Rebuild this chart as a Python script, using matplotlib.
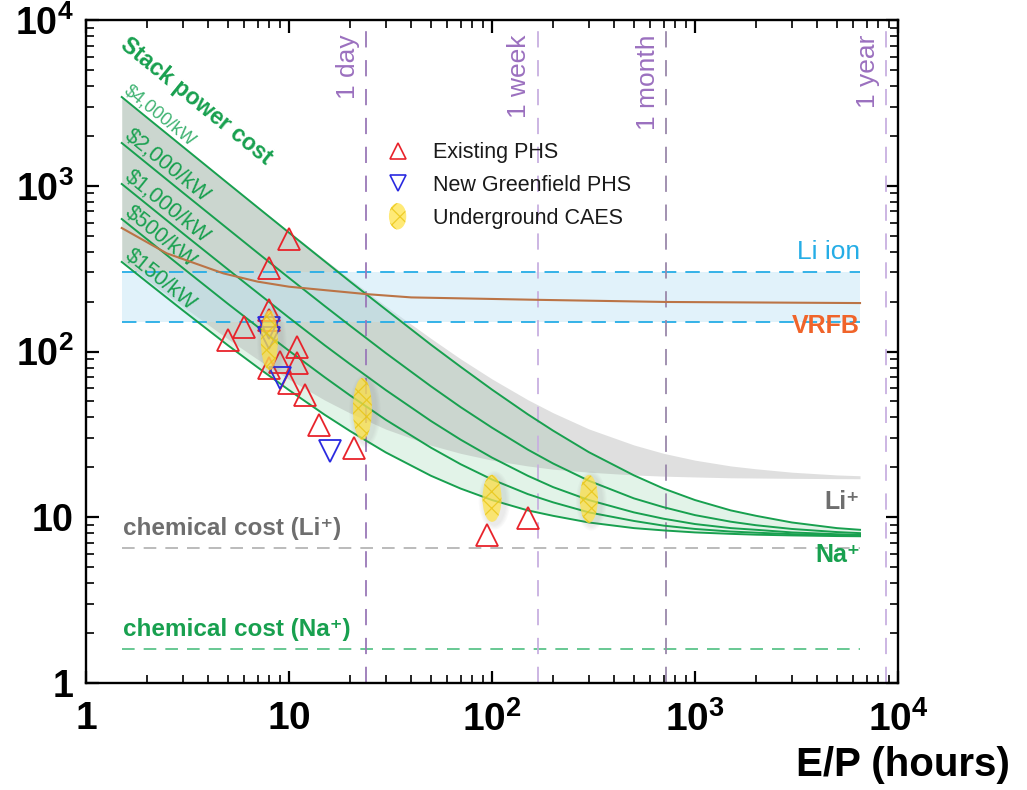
import matplotlib
matplotlib.use("Agg")
import matplotlib.pyplot as plt
from matplotlib import font_manager
from matplotlib.patches import Ellipse
from matplotlib.lines import Line2D
from matplotlib.legend_handler import HandlerPatch
from matplotlib.transforms import ScaledTranslation
from matplotlib.ticker import FixedLocator, FixedFormatter, NullFormatter, LogLocator

# ---------------- data ----------------
hours = [1.5, 2, 3, 5, 7, 10, 15, 20, 30, 50, 70, 100, 150, 200, 300,
         500, 700, 1000, 1500, 2000, 3000, 5000, 6500]

# Na+ system cost ($/kWh) for each stack power cost
na_4000 = [3430, 2574, 1719, 1034, 741, 521, 350, 264, 179, 110, 80.9, 58.9,
           41.8, 33.3, 24.7, 17.9, 14.9, 12.7, 11.0, 10.2, 9.3, 8.6, 8.4]
na_2000 = [1811, 1360, 909, 549, 394, 278, 188, 143, 97.8, 61.7, 46.2, 34.7,
           25.6, 21.1, 16.6, 13.0, 11.5, 10.3, 9.4, 8.95, 8.5, 8.14, 8.02]
na_1000 = [1025, 771, 516, 313, 226, 160, 109, 83.9, 58.5, 38.1, 29.4, 22.9,
           17.8, 15.2, 12.7, 10.7, 9.8, 9.1, 8.6, 8.4, 8.1, 7.9, 7.83]
na_500 = [630, 475, 319, 194, 141, 101, 69.9, 54.3, 38.7, 26.3, 20.9, 16.9,
          13.8, 12.3, 10.7, 9.5, 8.9, 8.5, 8.2, 8.07, 7.91, 7.79, 7.74]
na_150 = [347, 262, 177, 109, 80.3, 58.5, 41.5, 33.1, 24.6, 17.8, 14.9, 12.7,
          11.0, 10.2, 9.3, 8.6, 8.33, 8.1, 7.94, 7.85, 7.77, 7.7, 7.68]
na_curves = [na_4000, na_2000, na_1000, na_500, na_150]
power_cost_labels = ["$4,000/kW", "$2,000/kW", "$1,000/kW", "$500/kW", "$150/kW"]

# Li+ system cost band ($4,000/kW upper, $150/kW lower)
li_upper = [3439, 2583, 1728, 1044, 750, 530, 359, 274, 188, 120, 90.3, 68.3,
            51.2, 42.7, 34.1, 27.3, 24.3, 22.1, 20.4, 19.6, 18.7, 18.0, 17.8]
li_lower = [356, 271, 187, 119, 89.7, 67.9, 50.9, 42.5, 34.0, 27.2, 24.3, 22.1,
            20.4, 19.5, 18.7, 18.0, 17.7, 17.5, 17.3, 17.25, 17.17, 17.1, 17.08]

vrfb_hours = [1.5, 2.5, 4.75, 7, 10, 24, 40, 168, 720, 6500]
vrfb_cost = [556, 391, 296, 264, 246, 222, 212, 205, 199, 196]

li_ion_low, li_ion_high = 150, 300
chem_cost_li = 6.5
chem_cost_na = 1.6

phs_hours = [10, 8, 8, 6, 5, 11, 8, 8, 9, 11, 10, 12, 14, 21, 95, 150]
phs_cost = [480, 320, 178, 140, 117, 106, 155, 80, 86, 85, 65, 55, 36, 26, 7.8, 9.9]
greenfield_hours = [8, 8, 9, 16]
greenfield_cost = [139, 120, 69, 25]
caes_hours = [8, 23, 100, 300]
caes_cost = [117, 45, 13, 12.9]

durations = [24, 168, 720, 8760]
duration_labels = ["1 day", "1 week", "1 month", "1 year"]

x_ticks = [1, 10, 100, 1000, 10000]
y_ticks = [1, 10, 100, 1000, 10000]

# ---------------- fonts ----------------
def has_font(name, **kw):
    try:
        font_manager.findfont(font_manager.FontProperties(family=name, **kw),
                              fallback_to_default=False)
        return True
    except Exception:
        return False

SANS = "Liberation Sans"
NARROW = "Liberation Sans Narrow" if has_font("Liberation Sans Narrow") else SANS
plt.rcParams["font.family"] = [SANS, "DejaVu Sans"]
plt.rcParams["mathtext.fontset"] = "custom"
plt.rcParams["mathtext.bf"] = SANS + ":bold"
plt.rcParams["mathtext.rm"] = SANS
plt.rcParams["mathtext.sf"] = NARROW + ":bold"
plt.rcParams["hatch.linewidth"] = 0.9

x_tick_labels = [r"$\mathsf{1}$", r"$\mathsf{10}$", r"$\mathsf{10^{2}}$",
                 r"$\mathsf{10^{3}}$", r"$\mathsf{10^{4}}$"]
y_tick_labels = [r"$\mathbf{1}$", r"$\mathbf{10}$", r"$\mathbf{10^{2}}$",
                 r"$\mathbf{10^{3}}$", r"$\mathbf{10^{4}}$"]

# ---------------- colours ----------------
GREEN = "#18a04f"
GREEN_FILL = "#e2f3e8"
LI_GREY = "#6e6e6e"
RED = "#e8232b"
BLUE = "#2a2ae0"
SKY = "#25ade6"
ORANGE = "#f0642a"
PURPLE_TXT = "#9b70bf"
line_purples = ["#9a78b8", "#c8b0e0", "#9a88aa", "#c8b0e0"]

# ---------------- figure ----------------
fig = plt.figure(figsize=(10.27, 7.9), dpi=100)
ax = fig.add_axes([86 / 1027, 1 - 683 / 790, 812 / 1027, 663 / 790])
ax.set_xscale("log")
ax.set_yscale("log")
ax.set_xlim(1, 1e4)
ax.set_ylim(1, 1e4)

# shaded cost bands
ax.fill_between(hours, na_150, na_4000, color=GREEN_FILL, lw=0, zorder=1)
ax.fill_between(hours, li_lower, li_upper, color="#969696", alpha=0.3, lw=0, zorder=1.2)
ax.fill_between([hours[0], hours[-1]], li_ion_low, li_ion_high,
                color="#bee4f5", alpha=0.45, lw=0, zorder=1.4)
ax.hlines([li_ion_low, li_ion_high], hours[0], hours[-1], colors=SKY,
          linestyles=(0, (8, 5)), lw=1.3, zorder=2.5)

# chemical cost floors
ax.hlines(chem_cost_li, hours[0], hours[-1], colors="#b5b5b5",
          linestyles=(0, (7, 5)), lw=1.3, zorder=2.4)
ax.hlines(chem_cost_na, hours[0], hours[-1], colors="#5cc48a",
          linestyles=(0, (7, 5)), lw=1.3, zorder=2.4)

# duration markers
for d, lab, c in zip(durations, duration_labels, line_purples):
    ax.axvline(d, color=c, ls=(0, (9, 7)), lw=1.3, zorder=2.6)
    ax.annotate(lab, xy=(d, 1), xycoords=("data", "axes fraction"),
                xytext=(-4.5, -10.5), textcoords="offset points",
                rotation=90, ha="right", va="top", fontsize=19, color=PURPLE_TXT)

# stack power cost curves
for vals in na_curves:
    ax.plot(hours, vals, color=GREEN, lw=1.4, zorder=3)
ax.plot(vrfb_hours, vrfb_cost, color="#bb7446", lw=1.5, zorder=3.1)

for i, (vals, lab) in enumerate(zip(na_curves, power_cost_labels)):
    light = i == 0
    ax.annotate(lab, xy=(hours[0], vals[0]), xytext=(1.5, 3.5),
                textcoords="offset points", rotation=-39, rotation_mode="anchor",
                ha="left", va="baseline", fontsize=13 if light else 15.5,
                color="#3fb372" if light else GREEN)
ax.annotate("Stack power cost", xy=(hours[0], na_4000[0]), xytext=(6, 46),
            textcoords="offset points", rotation=-39, rotation_mode="anchor",
            ha="left", va="top", fontsize=16.5, fontweight="bold", color=GREEN)

# markers
ax.plot(phs_hours, phs_cost, ls="none", marker="^", ms=16, mfc="none",
        mec=RED, mew=1.3, zorder=4)
ax.plot(greenfield_hours, greenfield_cost, ls="none", marker="v", ms=16,
        mfc="none", mec=BLUE, mew=1.3, zorder=4)

caes_w = [0.17, 0.19, 0.19, 0.18]
caes_h = [0.60, 0.62, 0.47, 0.48]
caes_style = dict(facecolor="#ffe34a", edgecolor="#e8c30e", lw=0, hatch="xx", alpha=0.75)
for x, y, w, h in zip(caes_hours, caes_cost, caes_w, caes_h):
    # soft shadow
    for k in range(4):
        sh = Ellipse((0.025, -0.02), w + 0.05 + 0.025 * k, h + 0.04 + 0.025 * k,
                     transform=fig.dpi_scale_trans + ScaledTranslation(x, y, ax.transData),
                     facecolor="#707070", edgecolor="none", alpha=0.035, zorder=4.8)
        ax.add_artist(sh)
    e = Ellipse((0, 0), w, h,
                transform=fig.dpi_scale_trans + ScaledTranslation(x, y, ax.transData),
                zorder=5, **caes_style)
    ax.add_artist(e)

# text labels
ax.annotate("Li ion", xy=(hours[-1], li_ion_high), xytext=(0, 6),
            textcoords="offset points", ha="right", va="bottom",
            fontsize=19, color=SKY)
ax.annotate("VRFB", xy=(hours[-1], li_ion_low), xytext=(0, -3),
            textcoords="offset points", ha="right", va="center",
            fontsize=18, fontweight="bold", color=ORANGE)
ax.annotate("Li\u207a", xy=(hours[-1], li_lower[-1]), xytext=(0, -17),
            textcoords="offset points", ha="right", va="center",
            fontsize=18, fontweight="bold", color=LI_GREY)
ax.annotate("Na\u207a", xy=(hours[-1], chem_cost_li), xytext=(0, -5),
            textcoords="offset points", ha="right", va="center",
            fontsize=18, fontweight="bold", color=GREEN)
ax.annotate("chemical cost (Li\u207a)", xy=(hours[0], chem_cost_li), xytext=(1, 6),
            textcoords="offset points", ha="left", va="bottom",
            fontsize=17.5, fontweight="bold", color=LI_GREY)
ax.annotate("chemical cost (Na\u207a)", xy=(hours[0], chem_cost_na), xytext=(1, 6),
            textcoords="offset points", ha="left", va="bottom",
            fontsize=17.5, fontweight="bold", color=GREEN)

# legend
class HandlerEllipse(HandlerPatch):
    def create_artists(self, legend, orig_handle, xdescent, ydescent,
                       width, height, fontsize, trans):
        cx = 0.5 * width - xdescent
        cy = 0.5 * height - ydescent
        p = Ellipse((cx, cy), height * 1.15, height * 1.75)
        self.update_prop(p, orig_handle, legend)
        p.set_transform(trans)
        return [p]

h_phs = Line2D([], [], ls="none", marker="^", ms=12, mfc="none", mec=RED, mew=1.2)
h_new = Line2D([], [], ls="none", marker="v", ms=12, mfc="none", mec=BLUE, mew=1.2)
h_caes = Ellipse((0, 0), 1, 1, **caes_style)
leg = ax.legend([h_phs, h_new, h_caes],
                ["Existing PHS", "New Greenfield PHS", "Underground CAES"],
                handler_map={Ellipse: HandlerEllipse()},
                loc="upper left", bbox_to_anchor=(0.340, 0.845), frameon=False,
                fontsize=15.5, handlelength=1.5, handletextpad=0.9,
                labelspacing=0.55, borderpad=0.4)
for t in leg.get_texts():
    t.set_color("#1a1a1a")
leg.set_zorder(6)

# axes styling
for s in ax.spines.values():
    s.set_linewidth(1.7)
    s.set_zorder(7)
ax.xaxis.set_major_locator(FixedLocator(x_ticks))
ax.xaxis.set_major_formatter(FixedFormatter(x_tick_labels))
ax.yaxis.set_major_locator(FixedLocator(y_ticks))
ax.yaxis.set_major_formatter(FixedFormatter(y_tick_labels))
for axis in (ax.xaxis, ax.yaxis):
    axis.set_minor_locator(LogLocator(base=10, subs=range(2, 10), numticks=50))
    axis.set_minor_formatter(NullFormatter())
ax.tick_params(which="both", direction="in", top=True, right=True, colors="black")
ax.tick_params(which="major", length=9, width=1.6)
ax.tick_params(which="minor", length=5.5, width=1.2)
ax.tick_params(axis="y", which="major", labelsize=27, pad=9)
ax.tick_params(axis="x", which="major", labelsize=28, pad=13)

ax.set_xlabel("E/P (hours)", fontsize=29, fontweight="bold", family=NARROW,
              ha="right", va="center")
ax.xaxis.set_label_coords(1.138, -0.124)

fig.savefig("out.png", dpi=100)
